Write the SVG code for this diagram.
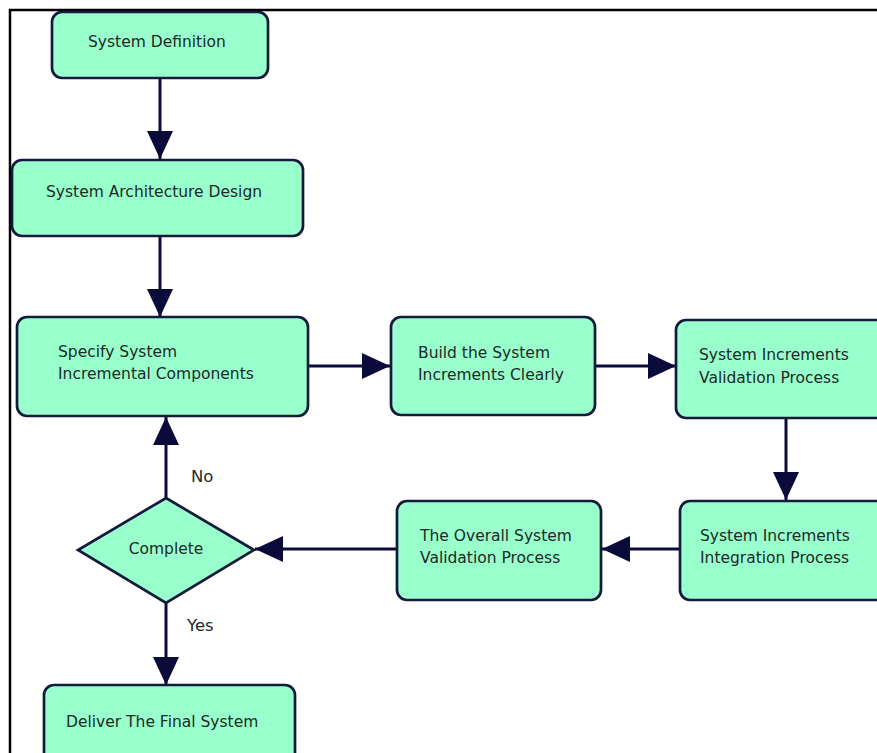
<svg xmlns="http://www.w3.org/2000/svg" width="877" height="753" viewBox="0 0 877 753">
  <defs>
    <marker id="arrow" viewBox="0 0 28 26" refX="28" refY="13" markerWidth="28" markerHeight="26" markerUnits="userSpaceOnUse" orient="auto">
      <path d="M0,0 L28,13 L0,26 Z" fill="#0b0b3b"/>
    </marker>
  </defs>
  <style>
    .box { fill: #99ffcc; stroke: #141a3c; stroke-width: 2.7; }
    .lbl { font-family: "DejaVu Sans", Verdana, sans-serif; font-size: 15.5px; fill: #1c2a28; }
    .tag { font-size: 16.5px; }
    .edge { stroke: #0b0b3b; stroke-width: 3; fill: none; marker-end: url(#arrow); }
    .frame { stroke: #000; stroke-width: 2.5; fill: none; }
  </style>

  <rect width="877" height="753" fill="#ffffff"/>
  <path class="frame" d="M10,753 L10,10 L877,10"/>

  <g id="connectors">
    <line class="edge" x1="160" y1="78" x2="160" y2="159"/>
    <line class="edge" x1="160" y1="236" x2="160" y2="317"/>
    <line class="edge" x1="308" y1="366" x2="390" y2="366"/>
    <line class="edge" x1="595" y1="366" x2="676" y2="366"/>
    <line class="edge" x1="786" y1="418" x2="786" y2="500"/>
    <line class="edge" x1="680" y1="549" x2="602" y2="549"/>
    <line class="edge" x1="397" y1="549" x2="255" y2="549"/>
    <line class="edge" x1="166" y1="498" x2="166" y2="417"/>
    <line class="edge" x1="166" y1="603" x2="166" y2="685"/>
  </g>

  <g id="system-definition">
    <rect class="box" x="52" y="12" width="216" height="66" rx="10"/>
    <text class="lbl" x="88" y="47">System Definition</text>
  </g>

  <g id="architecture-design">
    <rect class="box" x="12" y="160" width="291" height="76" rx="10"/>
    <text class="lbl" x="46" y="197">System Architecture Design</text>
  </g>

  <g id="specify-components">
    <rect class="box" x="17" y="317" width="291" height="99" rx="10"/>
    <text class="lbl" x="58" y="357">Specify System</text>
    <text class="lbl" x="58" y="379">Incremental Components</text>
  </g>

  <g id="build-increments">
    <rect class="box" x="391" y="317" width="204" height="98" rx="10"/>
    <text class="lbl" x="418" y="358">Build the System</text>
    <text class="lbl" x="418" y="380">Increments Clearly</text>
  </g>

  <g id="increments-validation">
    <rect class="box" x="676" y="320" width="215" height="98" rx="10"/>
    <text class="lbl" x="699" y="360">System Increments</text>
    <text class="lbl" x="699" y="383">Validation Process</text>
  </g>

  <g id="increments-integration">
    <rect class="box" x="680" y="501" width="211" height="99" rx="10"/>
    <text class="lbl" x="700" y="541">System Increments</text>
    <text class="lbl" x="700" y="563">Integration Process</text>
  </g>

  <g id="overall-validation">
    <rect class="box" x="397" y="501" width="204" height="99" rx="10"/>
    <text class="lbl" x="420" y="541">The Overall System</text>
    <text class="lbl" x="420" y="563">Validation Process</text>
  </g>

  <g id="complete">
    <polygon class="box" points="166,498 254,550 166,603 78,550" stroke-width="2"/>
    <text class="lbl" x="166" y="554" text-anchor="middle">Complete</text>
  </g>

  <g id="labels">
    <text class="lbl tag" x="191" y="482">No</text>
    <text class="lbl tag" x="187" y="631">Yes</text>
  </g>

  <g id="deliver-system">
    <rect class="box" x="44" y="685" width="251" height="90" rx="10"/>
    <text class="lbl" x="66" y="727">Deliver The Final System</text>
  </g>
</svg>
